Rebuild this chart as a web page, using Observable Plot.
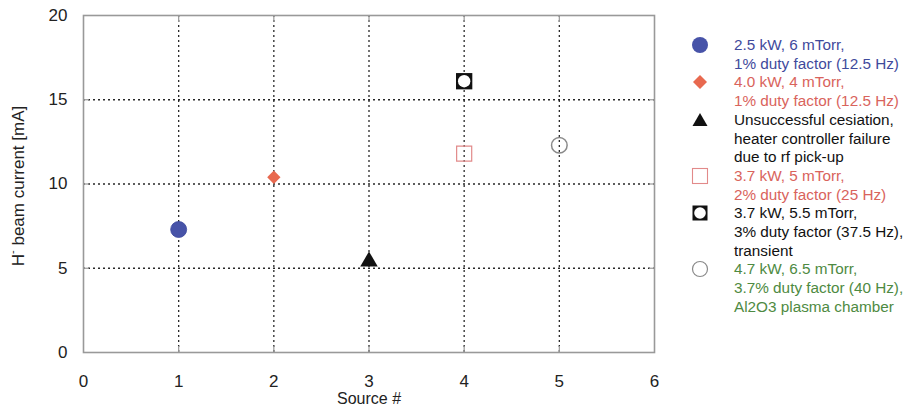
<!DOCTYPE html>
<html>
<head>
<meta charset="utf-8">
<script src="https://cdn.jsdelivr.net/npm/d3@7"></script>
<script src="https://cdn.jsdelivr.net/npm/@observablehq/plot@0.6"></script>
<style>
  html, body { margin: 0; padding: 0; background: #fff; }
  body { width: 914px; height: 407px; position: relative; overflow: hidden; font-family: "Liberation Sans", Arial, sans-serif; }
  #chart { position: absolute; left: 0; top: 0; }
  #legend { position: absolute; left: 688px; top: 36px; font-size: 15.3px; line-height: 18.7px; white-space: nowrap; }
  .entry { display: flex; align-items: flex-start; }
  .sw { width: 24px; height: 18.7px; flex: none; margin-right: 22px; }
  .sw svg { display: block; }
</style>
</head>
<body>
<div id="chart"></div>
<div id="legend"></div>
<script>
// ---- data ----
const sourceNo    = [1, 2, 3, 4, 4, 5];
const beamCurrent = [7.3, 10.4, 5.4, 11.8, 16.1, 12.3];
const seriesLabels = [
  ["2.5 kW, 6 mTorr,", "1% duty factor (12.5 Hz)"],
  ["4.0 kW, 4 mTorr,", "1% duty factor (12.5 Hz)"],
  ["Unsuccessful cesiation,", "heater controller failure", "due to rf pick-up"],
  ["3.7 kW, 5 mTorr,", "2% duty factor (25 Hz)"],
  ["3.7 kW, 5.5 mTorr,", "3% duty factor (37.5 Hz),", "transient"],
  ["4.7 kW, 6.5 mTorr,", "3.7% duty factor (40 Hz),", "Al2O3 plasma chamber"]
];
const xTicks = [0, 1, 2, 3, 4, 5, 6];
const yTicks = [0, 5, 10, 15, 20];
const gridX = [1, 2, 3, 4, 5];
const gridY = [5, 10, 15];

const data = sourceNo.map((s, i) => ({source: s, current: beamCurrent[i], series: i}));
const pick = i => data.filter(d => d.series === i);

const textColors = ["#3f4a9c", "#d9635c", "#111", "#d9635c", "#111", "#4e8a42"];

const grid = {stroke: "#111", strokeOpacity: 0.9, strokeDasharray: "2,3", strokeWidth: 1.3};
const inTick = {tickSize: -6, text: null, label: null, stroke: "#999", strokeWidth: 1.2};

const plot = Plot.plot({
  width: 680,
  height: 407,
  marginLeft: 83,
  marginRight: 26,
  marginTop: 15,
  marginBottom: 55,
  style: {fontFamily: "Liberation Sans, Arial, sans-serif", fontSize: "17px", color: "#222", background: "#fff"},
  x: {domain: [0, 6]},
  y: {domain: [0, 20]},
  marks: [
    Plot.gridX(gridX, {...grid}),
    Plot.gridY(gridY, {...grid}),
    Plot.frame({stroke: "#999", strokeWidth: 1.6}),
    // inward frame ticks
    Plot.axisX(gridX, {anchor: "bottom", ...inTick}),
    Plot.axisX(gridX, {anchor: "top", ...inTick}),
    Plot.axisY(gridY, {anchor: "left", ...inTick}),
    Plot.axisY(gridY, {anchor: "right", ...inTick}),
    // labels
    Plot.axisX(xTicks, {anchor: "bottom", tickSize: 0, tickPadding: 22, label: null, fontSize: 17, fill: "#222"}),
    Plot.axisY(yTicks, {anchor: "left", tickSize: 0, tickPadding: 16, label: null, fontSize: 17, fill: "#222"}),
    // points
    Plot.dot(pick(0), {x: "source", y: "current", r: 8, fill: "#4753a8", stroke: "#3d4a9e", strokeWidth: 0.8}),
    Plot.dot(pick(1), {x: "source", y: "current", symbol: "diamond2", r: 6, fill: "#e8694f"}),
    Plot.dot(pick(2), {x: "source", y: "current", symbol: "triangle", r: 6.5, fill: "#111"}),
    Plot.dot(pick(3), {x: "source", y: "current", symbol: "square", r: 8.5, fill: "none", stroke: "#e28a8a", strokeWidth: 1.2}),
    Plot.dot(pick(4), {x: "source", y: "current", symbol: "square", r: 9.2, fill: "#111"}),
    Plot.dot(pick(4), {x: "source", y: "current", r: 6.2, fill: "#fff"}),
    Plot.dot(pick(5), {x: "source", y: "current", r: 7.8, fill: "none", stroke: "#8a8a8a", strokeWidth: 1.5}),
    Plot.text(["Source #"], {x: 3, frameAnchor: "bottom", dy: 46, fontSize: 16, fill: "#222", lineAnchor: "middle"})
  ]
});
document.getElementById("chart").appendChild(plot);

// y-axis label with superscript minus
const svg = d3.select(plot);
const yl = svg.append("text")
  .attr("transform", "translate(20,186) rotate(-90)")
  .attr("text-anchor", "middle")
  .attr("dominant-baseline", "middle")
  .attr("font-size", 17)
  .attr("fill", "#222");
yl.append("tspan").text("H");
yl.append("tspan").attr("dy", -7).attr("font-size", 11).text("-");
yl.append("tspan").attr("dy", 7).text(" beam current [mA]");

// legend
const swatches = [
  s => s.append("circle").attr("cx", 12).attr("cy", 9).attr("r", 8).attr("fill", "#4753a8"),
  s => s.append("path").attr("d", "M12,2 L19,9 L12,16 L5,9 Z").attr("fill", "#e8694f"),
  s => s.append("path").attr("d", "M12,2 L19.5,15 L4.5,15 Z").attr("fill", "#111"),
  s => s.append("rect").attr("x", 4.5).attr("y", 1.5).attr("width", 15).attr("height", 15).attr("fill", "none").attr("stroke", "#e28a8a").attr("stroke-width", 1.1),
  s => { s.append("rect").attr("x", 4.5).attr("y", 1.5).attr("width", 15).attr("height", 15).attr("fill", "#111");
         s.append("circle").attr("cx", 12).attr("cy", 9).attr("r", 5.8).attr("fill", "#fff"); },
  s => s.append("circle").attr("cx", 12).attr("cy", 9).attr("r", 7.5).attr("fill", "none").attr("stroke", "#8a8a8a").attr("stroke-width", 1.2)
];
const legend = d3.select("#legend");
seriesLabels.forEach((lines, i) => {
  const e = legend.append("div").attr("class", "entry");
  const sw = e.append("div").attr("class", "sw").append("svg").attr("width", 24).attr("height", 18);
  swatches[i](sw);
  const t = e.append("div").style("color", textColors[i]);
  lines.forEach(l => t.append("div").text(l));
});
</script>
</body>
</html>
